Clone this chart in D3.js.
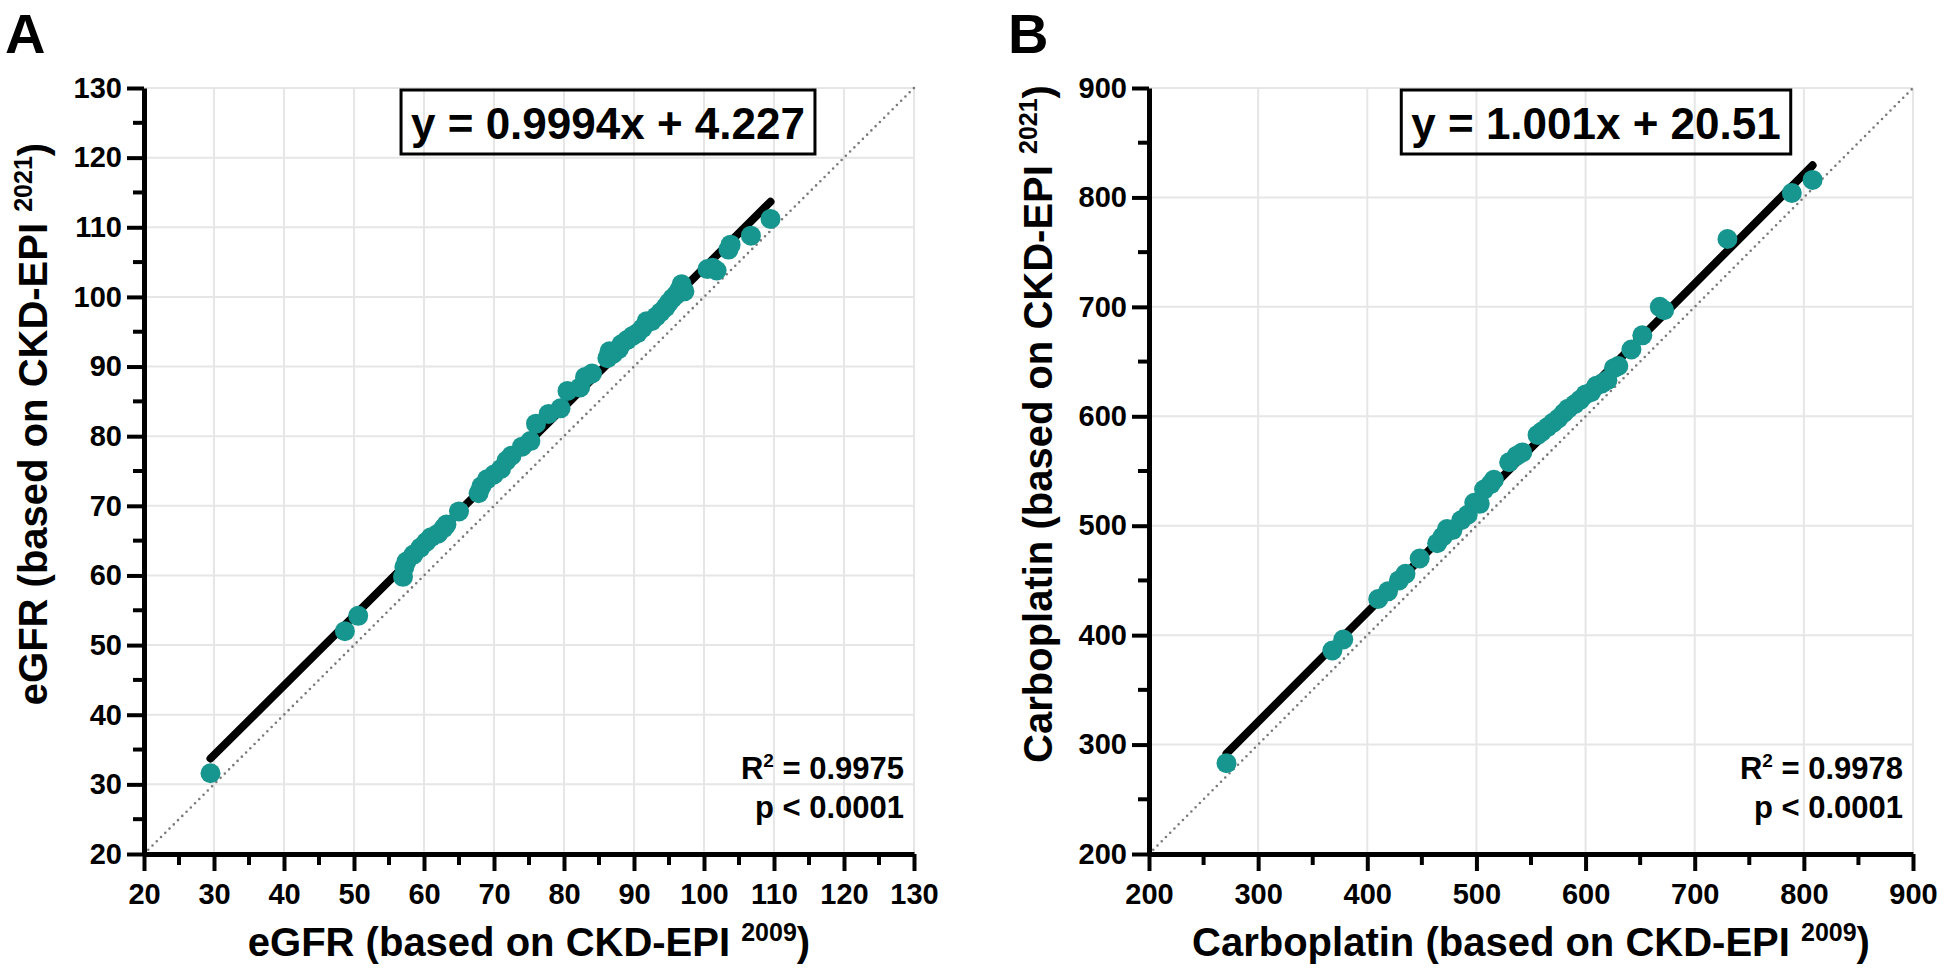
<!DOCTYPE html>
<html>
<head>
<meta charset="utf-8">
<script src="https://cdn.jsdelivr.net/npm/d3@7"></script>
<style>
  body { margin: 0; background: #fff; }
  text { font-family: "Liberation Sans", Arial, sans-serif; font-weight: bold; fill: #000; }
</style>
</head>
<body>
<svg id="chart" width="1944" height="974"></svg>
<script>
// eGFR per patient: CKD-EPI 2009 (x) vs CKD-EPI 2021 (y)
const egfr2009 = [29.5, 48.7, 50.6, 57.0, 57.2, 57.5, 58.5, 59.5, 60.3, 61.0, 62.0, 62.8, 63.2, 65.0, 67.8, 68.2,
  69.0, 70.0, 71.0, 71.8, 72.5, 74.0, 75.2, 76.0, 77.8, 79.5, 80.5, 82.3, 83.0, 84.0, 86.2, 86.5, 87.0, 87.8, 88.2,
  89.0, 89.8, 90.5, 91.2, 91.8, 92.5, 93.2, 93.8, 94.5, 95.0, 95.5, 96.0, 96.5, 96.8, 97.2, 100.5, 101.2, 101.8,
  103.5, 103.8, 106.7, 109.5];
const egfr2021 = [31.6, 52.0, 54.2, 59.8, 61.2, 62.0, 63.0, 64.0, 64.8, 65.5, 66.0, 66.8, 67.3, 69.2, 71.8, 72.8,
  73.8, 74.5, 75.3, 76.5, 77.2, 78.5, 79.3, 81.8, 83.2, 84.0, 86.5, 87.0, 88.5, 89.0, 91.2, 92.2, 91.8, 92.5, 93.2,
  93.8, 94.4, 94.8, 95.5, 96.5, 96.5, 97.2, 97.8, 98.5, 99.2, 99.8, 100.3, 101.0, 101.8, 100.8, 104.0, 104.2, 103.8,
  106.8, 107.5, 108.8, 111.2];

// carboplatin dose per patient
const carbo2009 = [271, 368, 378, 410, 419, 429, 435, 448, 464, 469, 473, 478, 486, 492, 498, 503, 507, 513, 516,
  530, 537, 542, 556, 560, 565, 570, 575, 580, 584, 590, 595, 600, 605, 610, 615, 620, 626, 630, 642, 652, 668, 672,
  730, 789, 808];
const carbo2021 = [283, 386, 396, 433, 440, 450, 456, 470, 484, 490, 497, 496, 505, 510, 521, 520, 533, 538, 542,
  558, 564, 567, 583, 586, 590, 594, 598, 603, 607, 611, 615, 620, 622, 628, 630, 633, 644, 646, 661, 674, 700, 697,
  762, 804, 816];

const egfrTicks = [20, 30, 40, 50, 60, 70, 80, 90, 100, 110, 120, 130];
const carboTicks = [200, 300, 400, 500, 600, 700, 800, 900];

// linear fits
const egfrSlope = 0.9994, egfrIntercept = 4.227;
const carboSlope = 1.001, carboIntercept = 20.51;

const svg = d3.select('#chart');
svg.append('rect').attr('width', 1944).attr('height', 974).style('fill', '#fff');

function drawPanel(p) {
  const g = svg.append('g');
  const dom = [p.ticks[0], p.ticks[p.ticks.length - 1]];
  const x = d3.scaleLinear().domain(dom).range([p.left, p.right]);
  const y = d3.scaleLinear().domain(dom).range([p.bottom, p.top]);
  const minor = p.ticks.slice(1).map((t, i) => (t + p.ticks[i]) / 2);

  // grid
  g.selectAll('line.vgrid').data(p.ticks.slice(1)).enter().append('line')
    .attr('x1', d => x(d)).attr('x2', d => x(d))
    .attr('y1', p.top).attr('y2', p.bottom)
    .style('stroke', '#e6e6e6').style('stroke-width', 2);
  g.selectAll('line.hgrid').data(p.ticks.slice(1)).enter().append('line')
    .attr('y1', d => y(d)).attr('y2', d => y(d))
    .attr('x1', p.left).attr('x2', p.right)
    .style('stroke', '#e6e6e6').style('stroke-width', 2);

  // line of identity
  g.append('line')
    .attr('x1', x(dom[0])).attr('y1', y(dom[0]))
    .attr('x2', x(dom[1])).attr('y2', y(dom[1]))
    .style('stroke', '#7a7a7a').style('stroke-width', 2.6)
    .style('stroke-dasharray', '0,6').style('stroke-linecap', 'round');

  // regression line
  const ext = d3.extent(p.xs);
  g.append('line')
    .attr('x1', x(ext[0])).attr('y1', y(p.slope * ext[0] + p.intercept))
    .attr('x2', x(ext[1])).attr('y2', y(p.slope * ext[1] + p.intercept))
    .style('stroke', '#000').style('stroke-width', 8).style('stroke-linecap', 'round');

  // points
  g.selectAll('circle').data(p.xs).enter().append('circle')
    .attr('cx', d => x(d))
    .attr('cy', (d, i) => y(p.ys[i]))
    .attr('r', 10)
    .style('fill', '#17958f');

  // axes
  const xAxis = g.append('g').attr('transform', `translate(0,${p.bottom})`)
    .call(d3.axisBottom(x).tickValues(p.ticks).tickSize(17).tickSizeOuter(0).tickPadding(12));
  xAxis.selectAll('.minor').data(minor).enter().append('line')
    .attr('x1', d => x(d)).attr('x2', d => x(d)).attr('y1', 0).attr('y2', 11);
  const yAxis = g.append('g').attr('transform', `translate(${p.left},0)`)
    .call(d3.axisLeft(y).tickValues(p.ticks).tickSize(17).tickSizeOuter(0).tickPadding(5));
  yAxis.selectAll('.minor').data(minor).enter().append('line')
    .attr('y1', d => y(d)).attr('y2', d => y(d)).attr('x1', 0).attr('x2', -11);
  [xAxis, yAxis].forEach(a => {
    a.select('.domain').style('stroke', '#000').style('stroke-width', 5);
    a.selectAll('line').style('stroke', '#000').style('stroke-width', 4);
    a.selectAll('text').style('font-size', '29px').style('font-family', '"Liberation Sans", Arial, sans-serif')
      .style('font-weight', 'bold');
  });

  // axis titles
  const xt = g.append('text').attr('x', (p.left + p.right) / 2).attr('y', 956)
    .attr('text-anchor', 'middle').style('font-size', '40px');
  xt.append('tspan').text(p.name + ' (based on CKD-EPI ');
  xt.append('tspan').attr('dy', -15).style('font-size', '25px').text('2009');
  xt.append('tspan').attr('dy', 15).text(')');

  const yt = g.append('text').attr('transform', `translate(${p.left - 97},424) rotate(-90)`)
    .attr('text-anchor', 'middle').style('font-size', '40px');
  yt.append('tspan').text(p.name + ' (based on CKD-EPI ');
  yt.append('tspan').attr('dy', -15).style('font-size', '25px').text('2021');
  yt.append('tspan').attr('dy', 15).text(')');

  // equation box
  const eq = g.append('text').attr('x', p.left + p.eqOffset).attr('y', 139)
    .attr('text-anchor', 'middle').style('font-size', '44px').text(p.equation);
  const bb = eq.node().getBBox();
  g.append('rect').attr('x', bb.x - 10).attr('y', 90).attr('width', bb.width + 20).attr('height', 64)
    .style('fill', 'none').style('stroke', '#000').style('stroke-width', 3);

  // statistics
  const r2 = g.append('text').attr('x', p.right - 10).attr('y', 779)
    .attr('text-anchor', 'end').style('font-size', '31px');
  r2.append('tspan').text('R');
  r2.append('tspan').attr('dy', -12).style('font-size', '19px').text('2');
  r2.append('tspan').attr('dy', 12).text(' = ' + p.r2);
  g.append('text').attr('x', p.right - 10).attr('y', 818)
    .attr('text-anchor', 'end').style('font-size', '31px').text('p < 0.0001');

  // panel letter
  g.append('text').attr('x', p.letterX).attr('y', 53).style('font-size', '56px').text(p.letter);
}

drawPanel({
  letter: 'A', letterX: 5, name: 'eGFR', xs: egfr2009, ys: egfr2021, ticks: egfrTicks,
  slope: egfrSlope, intercept: egfrIntercept, equation: 'y = 0.9994x + 4.227', r2: '0.9975',
  left: 144, right: 914, top: 88, bottom: 854, eqOffset: 464
});
drawPanel({
  letter: 'B', letterX: 1008, name: 'Carboplatin', xs: carbo2009, ys: carbo2021, ticks: carboTicks,
  slope: carboSlope, intercept: carboIntercept, equation: 'y = 1.001x + 20.51', r2: '0.9978',
  left: 1149, right: 1913, top: 88, bottom: 854, eqOffset: 447
});
</script>
</body>
</html>
